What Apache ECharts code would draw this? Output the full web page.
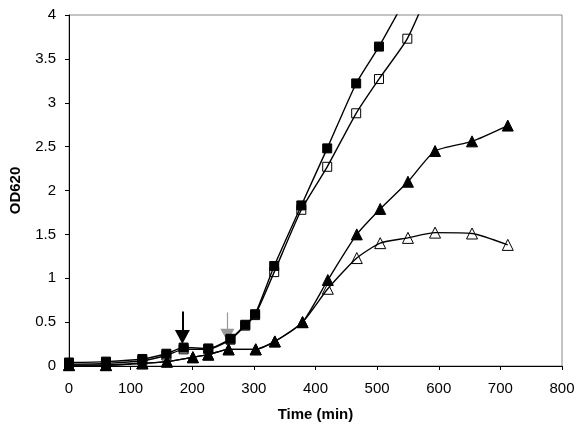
<!DOCTYPE html>
<html>
<head>
<meta charset="utf-8">
<script src="https://cdn.jsdelivr.net/npm/echarts@6/dist/echarts.min.js"></script>
<style>html,body{margin:0;padding:0;background:#fff}#c{width:582px;height:434px}</style>
</head>
<body>
<div id="c"></div>
<script>
// Filled squares
const sqFilledTime = [0, 60, 119, 158, 186, 226, 262, 286, 302, 333, 377, 419, 466, 503, 549];
const sqFilled = [0.04, 0.05, 0.08, 0.14, 0.21, 0.20, 0.31, 0.47, 0.59, 1.14, 1.83, 2.48, 3.22, 3.64, 4.22];
// Open squares
const sqOpenTime = [0, 60, 119, 158, 186, 226, 262, 286, 302, 333, 377, 419, 466, 503, 549, 594];
const sqOpen = [0.02, 0.03, 0.06, 0.12, 0.19, 0.19, 0.30, 0.46, 0.58, 1.07, 1.78, 2.27, 2.88, 3.27, 3.73, 4.45];
// Filled triangles
const triFilledTime = [0, 60, 119, 159, 201, 226, 259, 303, 334, 379, 420, 467, 505, 550, 594, 654, 712];
const triFilled = [0.01, 0.01, 0.03, 0.05, 0.10, 0.13, 0.19, 0.19, 0.28, 0.50, 0.98, 1.50, 1.79, 2.10, 2.45, 2.56, 2.74];
// Open triangles
const triOpenTime = [0, 60, 119, 159, 201, 226, 259, 303, 334, 379, 420, 467, 505, 550, 594, 654, 712];
const triOpen = [0.01, 0.01, 0.03, 0.05, 0.10, 0.13, 0.19, 0.19, 0.28, 0.50, 0.88, 1.23, 1.40, 1.46, 1.52, 1.51, 1.38];
// Arrows (time, top value, head-centre value)
const blackArrow = [184, 0.62, 0.33];
const grayArrow = [257, 0.61, 0.35];

const xTicks = [0, 100, 200, 300, 400, 500, 600, 700, 800];
const yTicks = [0, 0.5, 1, 1.5, 2, 2.5, 3, 3.5, 4];

const zip = (t, v) => t.map((x, i) => [x, v[i]]);
const font = 'Liberation Sans, Arial, sans-serif';

function ser(name, t, v, symbol, size, fill, z) {
  return {
    name, type: 'line', data: zip(t, v), smooth: 0.2, z,
    symbol, symbolSize: size, showSymbol: true,
    lineStyle: { color: '#000', width: 1.4 },
    itemStyle: { color: fill, borderColor: '#000', borderWidth: 1 },
    clip: true, animation: false
  };
}

const chart = echarts.init(document.getElementById('c'), null, { renderer: 'canvas' });
const s4 = ser('sqFilled', sqFilledTime, sqFilled, 'rect', 9, '#000', 6);
s4.markLine = {
  silent: true, animation: false,
  label: { show: false },
  data: [
    [{ coord: [blackArrow[0], blackArrow[1]], symbol: 'none' },
     { coord: [blackArrow[0], blackArrow[2]], symbol: 'triangle', symbolSize: [15, 14],
       lineStyle: { color: '#000', width: 2, type: 'solid' }, itemStyle: { color: '#000' } }],
    [{ coord: [grayArrow[0], grayArrow[1]], symbol: 'none' },
     { coord: [grayArrow[0], grayArrow[2]], symbol: 'triangle', symbolSize: [14, 13],
       lineStyle: { color: '#999', width: 1.2, type: 'solid' }, itemStyle: { color: '#9a9a9a', borderColor: '#666', borderWidth: 1 } }]
  ]
};
chart.setOption({
  animation: false,
  backgroundColor: '#fff',
  grid: { left: 68, right: 20, top: 15, bottom: 68, show: true, borderColor: '#888', borderWidth: 1 },
  xAxis: {
    type: 'value', min: xTicks[0], max: xTicks[xTicks.length - 1], interval: 100,
    name: 'Time (min)', nameLocation: 'middle', nameGap: 41,
    nameTextStyle: { fontFamily: font, fontSize: 15, fontWeight: 'bold', color: '#000' },
    axisLine: { lineStyle: { color: '#000', width: 1 } },
    axisTick: { show: true, length: 4, lineStyle: { color: '#000' } },
    axisLabel: { fontFamily: font, fontSize: 15, color: '#000', margin: 15 },
    splitLine: { show: false }
  },
  yAxis: {
    type: 'value', min: yTicks[0], max: yTicks[yTicks.length - 1], interval: 0.5,
    name: 'OD620', nameLocation: 'middle', nameGap: 46, nameRotate: 90,
    nameTextStyle: { fontFamily: font, fontSize: 15, fontWeight: 'bold', color: '#000' },
    axisLine: { show: true, lineStyle: { color: '#000', width: 1 } },
    axisTick: { show: true, length: 4, lineStyle: { color: '#000' } },
    axisLabel: { fontFamily: font, fontSize: 15, color: '#000', margin: 13 },
    splitLine: { show: false }
  },
  series: [
    ser('triOpen', triOpenTime, triOpen, 'triangle', 11, 'rgba(255,255,255,0)', 3),
    ser('triFilled', triFilledTime, triFilled, 'triangle', 11, '#000', 4),
    ser('sqOpen', sqOpenTime, sqOpen, 'rect', 9, 'rgba(255,255,255,0)', 5),
    s4
  ]
});
</script>
</body>
</html>
